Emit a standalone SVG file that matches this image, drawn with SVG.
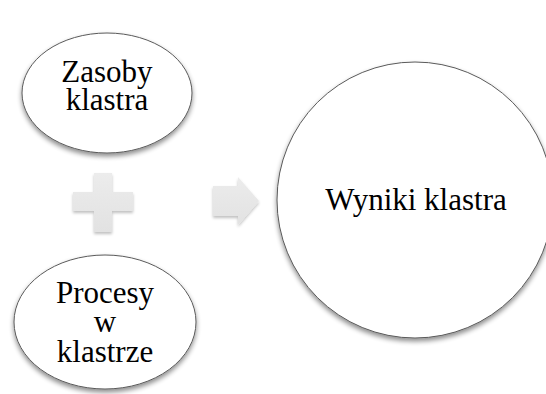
<svg xmlns="http://www.w3.org/2000/svg" width="546" height="394" viewBox="0 0 546 394">
<style>
.node{fill:#ffffff;stroke:#5a5a5a;stroke-width:1}
.lbl{font-family:"Liberation Serif","Times New Roman",serif;font-size:31px;fill:#000;text-anchor:middle}
.sym{fill:url(#gr)}
</style>
<defs>
<filter id="sh" x="-20%" y="-20%" width="140%" height="150%">
<feGaussianBlur in="SourceAlpha" stdDeviation="2.5"/>
<feOffset dx="0" dy="3" result="b"/>
<feComponentTransfer in="b" result="c"><feFuncA type="linear" slope="0.45"/></feComponentTransfer>
<feMerge><feMergeNode in="c"/><feMergeNode in="SourceGraphic"/></feMerge>
</filter>
<filter id="sh2" x="-30%" y="-30%" width="160%" height="170%">
<feGaussianBlur in="SourceAlpha" stdDeviation="1.5"/>
<feOffset dx="0" dy="2" result="b"/>
<feComponentTransfer in="b" result="c"><feFuncA type="linear" slope="0.25"/></feComponentTransfer>
<feMerge><feMergeNode in="c"/><feMergeNode in="SourceGraphic"/></feMerge>
</filter>
<linearGradient id="gr" x1="0" y1="0" x2="0" y2="1">
<stop offset="0" stop-color="#ececec"/>
<stop offset="1" stop-color="#e2e2e2"/>
</linearGradient>
</defs>
<g id="connectors">
<path class="sym" filter="url(#sh2)" d="M94,173 H112 V192 H133 V211 H112 V232 H94 V211 H73 V192 H94 Z"/>
<path class="sym" filter="url(#sh2)" d="M213,186 H238 V177 L259,201 L238,225 V216 H213 Z"/>
</g>
<g id="zasoby">
<ellipse class="node" filter="url(#sh)" cx="107" cy="93" rx="85" ry="60"/>
<text class="lbl" x="107" y="82">Zasoby</text>
<text class="lbl" x="107" y="110">klastra</text>
</g>
<g id="procesy">
<ellipse class="node" filter="url(#sh)" cx="105" cy="322" rx="91" ry="67"/>
<text class="lbl" x="105" y="303">Procesy</text>
<text class="lbl" x="105" y="332">w</text>
<text class="lbl" x="105" y="362">klastrze</text>
</g>
<g id="wyniki">
<circle class="node" filter="url(#sh)" cx="415" cy="200" r="138"/>
<text class="lbl" x="416" y="210">Wyniki klastra</text>
</g>
</svg>
